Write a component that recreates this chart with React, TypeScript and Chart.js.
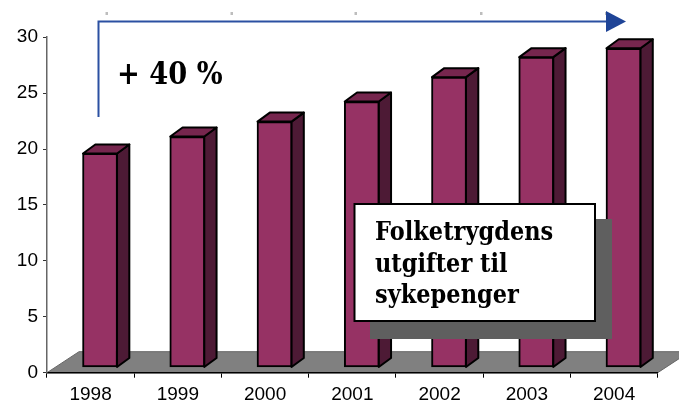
import React, { useEffect, useRef } from "react";
import { Chart, registerables } from "chart.js";

Chart.register(...registerables);

const years = ["1998", "1999", "2000", "2001", "2002", "2003", "2004"];
const spending = [19.14, 20.65, 21.99, 23.78, 25.96, 27.75, 28.55];
const yMax = 30;
const yStep = 5;
const boxLines = ["Folketrygdens", "utgifter til", "sykepenger"];
const growthLabel = "+ 40 %";

const FRONT = "#963264";
const TOP = "#76264e";
const SIDE = "#4d1a35";
const FLOOR = "#808080";
const BLUE = "#2b50a2";
const SERIF = '"DejaVu Serif", serif';

const DEPTH_X = 12.3;
const DEPTH_Y = 9;
const SHIFT_X = 9.4;
const SHIFT_Y = -5.2;

const poly = (ctx: CanvasRenderingContext2D, pts: number[][]) => {
  ctx.beginPath();
  pts.forEach(([x, y], i) => (i ? ctx.lineTo(x, y) : ctx.moveTo(x, y)));
  ctx.closePath();
};

const squeezedText = (ctx: CanvasRenderingContext2D, text: string, x: number, y: number, sx: number) => {
  ctx.save();
  ctx.translate(x, y);
  ctx.scale(sx, 1);
  ctx.fillText(text, 0, 0);
  ctx.restore();
};

const pseudo3d = {
  id: "pseudo3d",
  beforeDraw(chart: any) {
    const { ctx, chartArea: a } = chart;
    ctx.save();
    ctx.fillStyle = FLOOR;
    poly(ctx, [
      [a.left, a.bottom],
      [a.left + 32, a.bottom - 21],
      [a.right + 32, a.bottom - 21],
      [a.right, a.bottom],
    ]);
    ctx.fill();
    ctx.strokeStyle = "#666666";
    ctx.lineWidth = 1;
    ctx.stroke();
    ctx.restore();
  },
  beforeDatasetsDraw(chart: any) {
    const { ctx } = chart;
    ctx.save();
    ctx.translate(SHIFT_X, SHIFT_Y);
    ctx.lineWidth = 2;
    ctx.strokeStyle = "#000";
    ctx.lineJoin = "round";
    chart.getDatasetMeta(0).data.forEach((bar: any) => {
      const { x, y, base, width } = bar.getProps(["x", "y", "base", "width"], true);
      const l = x - width / 2 + 0.5;
      const r = x + width / 2 - 0.5;
      ctx.fillStyle = SIDE;
      poly(ctx, [
        [r, y],
        [r + DEPTH_X, y - DEPTH_Y],
        [r + DEPTH_X, base - DEPTH_Y],
        [r, base],
      ]);
      ctx.fill();
      ctx.stroke();
      ctx.fillStyle = TOP;
      poly(ctx, [
        [l, y],
        [l + DEPTH_X, y - DEPTH_Y],
        [r + DEPTH_X, y - DEPTH_Y],
        [r, y],
      ]);
      ctx.fill();
      ctx.stroke();
    });
  },
  afterDatasetsDraw(chart: any) {
    chart.ctx.restore();
  },
  afterDraw(chart: any) {
    const { ctx } = chart;
    ctx.save();
    ctx.fillStyle = "#bdbdbd";
    [105.5, 230.5, 354.5, 480, 605].forEach((x) => ctx.fillRect(x, 12, 2.5, 3));

    ctx.strokeStyle = BLUE;
    ctx.lineWidth = 2;
    ctx.beginPath();
    ctx.moveTo(98.5, 117);
    ctx.lineTo(98.5, 21.5);
    ctx.lineTo(607, 21.5);
    ctx.stroke();
    ctx.fillStyle = "#1f4497";
    poly(ctx, [
      [606, 11],
      [626, 21.5],
      [606, 32],
    ]);
    ctx.fill();

    ctx.fillStyle = "#000";
    ctx.textAlign = "left";
    ctx.textBaseline = "alphabetic";
    ctx.font = `bold 31px ${SERIF}`;
    squeezedText(ctx, growthLabel, 117, 84, 0.88);

    ctx.fillStyle = "#5f5f5f";
    ctx.fillRect(370, 219, 242, 120);
    ctx.fillStyle = "#fff";
    ctx.fillRect(354, 204, 241, 117);
    ctx.strokeStyle = "#000";
    ctx.lineWidth = 2;
    ctx.strokeRect(354.5, 204, 240.5, 117);
    ctx.fillStyle = "#000";
    ctx.font = `bold 26px ${SERIF}`;
    boxLines.forEach((t, i) => squeezedText(ctx, t, 375, 240 + i * 31.5, 0.865));
    ctx.restore();
  },
};

export default function App() {
  const ref = useRef<HTMLCanvasElement>(null);
  useEffect(() => {
    const chart = new Chart(ref.current!, {
      type: "bar",
      data: {
        labels: years,
        datasets: [
          {
            data: spending,
            backgroundColor: FRONT,
            borderColor: "#000",
            borderWidth: 2,
            borderSkipped: false,
            barThickness: 35,
            clip: false,
          } as any,
        ],
      },
      options: {
        responsive: false,
        animation: false,
        layout: { padding: { left: 0, right: 21.3, top: 37.2, bottom: 0 } },
        plugins: { legend: { display: false }, tooltip: { enabled: false } },
        scales: {
          x: {
            afterFit(scale: any) {
              scale.height = 29.3;
            },
            grid: { drawOnChartArea: false, color: "#000", tickLength: 5 },
            border: { color: "#000", width: 1.5 },
            ticks: { color: "#000", font: { family: "Liberation Sans", size: 19 }, padding: 6, maxRotation: 0 },
          },
          y: {
            min: 0,
            max: yMax,
            afterFit(scale: any) {
              scale.width = 47;
            },
            grid: { drawOnChartArea: false, color: "#333", tickLength: 4 },
            border: { color: "#666", width: 1.5 },
            ticks: { stepSize: yStep, color: "#000", font: { family: "Liberation Sans", size: 19 }, padding: 5 },
          },
        },
      },
      plugins: [pseudo3d],
    });
    return () => chart.destroy();
  }, []);
  return (
    <canvas
      ref={ref}
      width={679}
      height={402}
      style={{ position: "fixed", left: 0, top: 0, width: 679, height: 402, display: "block" }}
    />
  );
}
